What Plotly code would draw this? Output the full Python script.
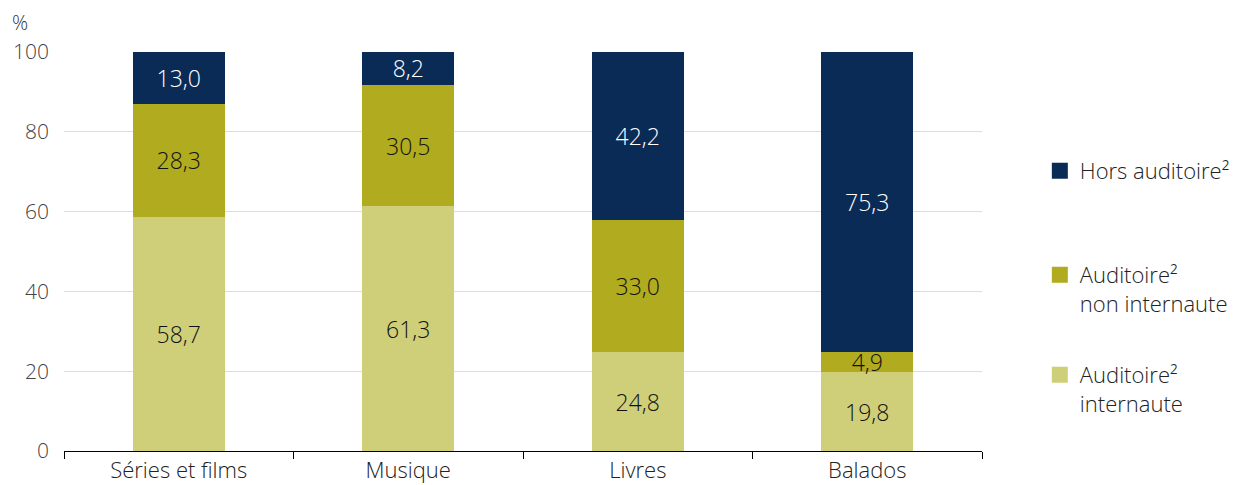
import plotly.graph_objects as go

categories = ["Séries et films", "Musique", "Livres", "Balados"]
internaute = [58.7, 61.3, 24.8, 19.8]
non_internaute = [28.3, 30.5, 33.0, 4.9]
hors_auditoire = [13.0, 8.2, 42.2, 75.3]
y_ticks = [0, 20, 40, 60, 80, 100]

NAVY = "#0b2b57"
OLIVE = "#b1ab1f"
LIGHT = "#cfcf7a"
FONT = "Open Sans"


def fmt(vals):
    return [f"{v:.1f}".replace(".", ",") for v in vals]


fig = go.Figure()
series = [
    ("Auditoire²<br>internaute", internaute, LIGHT, "#111111", "legend3"),
    ("Auditoire²<br>non internaute", non_internaute, OLIVE, "#111111", "legend2"),
    ("Hors auditoire²", hors_auditoire, NAVY, "#ffffff", "legend"),
]
for name, vals, color, tcol, leg in series:
    fig.add_trace(go.Bar(
        x=categories, y=vals, name=name, showlegend=False,
        marker=dict(color=color, line=dict(width=0)),
        text=fmt(vals), textposition="inside", insidetextanchor="middle",
        textangle=0, constraintext="none",
        textfont=dict(family=FONT, size=23, color=tcol, weight=300),
        hoverinfo="skip",
    ))
    # legend entry with a larger square swatch
    fig.add_trace(go.Scatter(
        x=[None], y=[None], mode="markers", name=name, legend=leg,
        marker=dict(symbol="square", size=16, color=color, line=dict(width=0)),
        hoverinfo="skip",
    ))

leg_common = dict(
    x=1.063, xanchor="left", yanchor="top", valign="top",
    itemsizing="trace",
    font=dict(family=FONT, size=22, color="#222", weight=300),
    bgcolor="rgba(0,0,0,0)",
)

fig.update_layout(
    barmode="stack",
    bargap=0.6,
    width=1227, height=477,
    margin=dict(l=56, r=253, t=44, b=34, autoexpand=False),
    paper_bgcolor="white", plot_bgcolor="white",
    font=dict(family=FONT, size=21, color="#222", weight=300),
    uniformtext=dict(mode="show", minsize=23),
    showlegend=True,
    legend=dict(y=0.7544, **leg_common),
    legend2=dict(y=0.4937, **leg_common),
    legend3=dict(y=0.2431, **leg_common),
    xaxis=dict(
        automargin=False,
        showgrid=False, showline=True, linecolor="#000", linewidth=1,
        ticks="outside", tickson="boundaries", ticklen=7, tickcolor="#000",
        tickfont=dict(family=FONT, size=22, color="#222", weight=300),
    ),
    yaxis=dict(
        automargin=False,
        range=[0, 100], tickvals=y_ticks, ticktext=[str(v) for v in y_ticks],
        showgrid=True, gridcolor="#dddddd", gridwidth=1,
        zeroline=False, showline=False, ticks="",
        ticklabelstandoff=14,
        tickfont=dict(family=FONT, size=21, color="#444", weight=300),
    ),
    annotations=[dict(
        text="%", xref="paper", yref="paper", x=-0.059, y=1.075,
        xanchor="left", yanchor="middle", showarrow=False,
        font=dict(family=FONT, size=20, color="#333", weight=300),
    )],
)

fig.write_html("out.html")
